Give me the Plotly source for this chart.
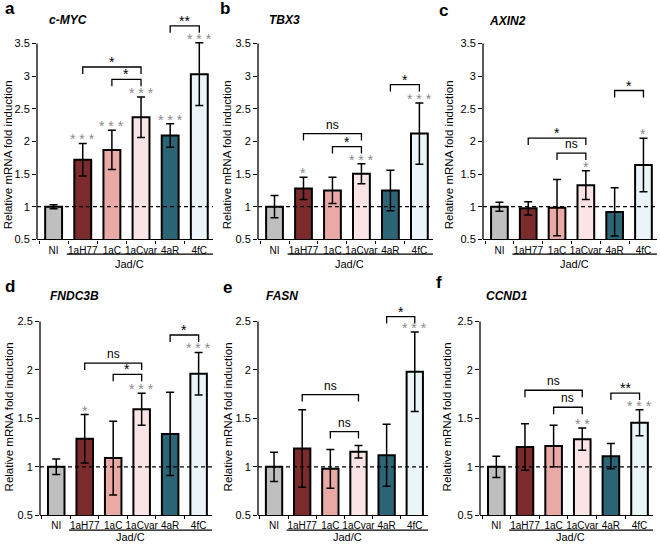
import plotly.graph_objects as go

# ---------------- data ----------------
categories = ["NI", "1aH77", "1aC", "1aCvar", "4aR", "4fC"]
bar_colors = ["#bfbfbf", "#7b2b2c", "#e9aaa6", "#fbe4e6", "#2c6576", "#ebf5f9"]

genes = ["c-MYC", "TBX3", "AXIN2", "FNDC3B", "FASN", "CCND1"]
panel_letters = ["a", "b", "c", "d", "e", "f"]

cmyc_mean = [1.00, 1.72, 1.87, 2.37, 2.09, 3.03]
cmyc_err = [0.03, 0.25, 0.30, 0.31, 0.18, 0.48]
cmyc_stars = ["", "***", "***", "***", "***", "***"]
cmyc_brackets = [("1aH77", "1aCvar", 3.14, "*"), ("1aC", "1aCvar", 2.95, "*"), ("4aR", "4fC", 3.77, "**")]

tbx3_mean = [1.00, 1.28, 1.25, 1.505, 1.25, 2.12]
tbx3_err = [0.17, 0.17, 0.20, 0.155, 0.31, 0.47]
tbx3_stars = ["", "*", "", "***", "", "***"]
tbx3_brackets = [("1aH77", "1aCvar", 2.12, "ns"), ("1aC", "1aCvar", 1.92, "*"), ("4aR", "4fC", 2.87, "*")]

axin2_mean = [1.00, 0.975, 0.985, 1.33, 0.92, 1.64]
axin2_err = [0.07, 0.10, 0.43, 0.22, 0.37, 0.41]
axin2_stars = ["", "", "", "*", "", "*"]
axin2_brackets = [("1aH77", "1aCvar", 2.05, "*"), ("1aC", "1aCvar", 1.82, "ns"), ("4aR", "4fC", 2.78, "*")]

fndc3b_mean = [1.00, 1.29, 1.09, 1.595, 1.34, 1.96]
fndc3b_err = [0.08, 0.25, 0.38, 0.165, 0.43, 0.22]
fndc3b_stars = ["", "*", "", "***", "", "***"]
fndc3b_brackets = [("1aH77", "1aCvar", 2.07, "ns"), ("1aC", "1aCvar", 1.955, "*"), ("4aR", "4fC", 2.36, "*")]

fasn_mean = [1.00, 1.19, 0.98, 1.155, 1.12, 1.98]
fasn_err = [0.15, 0.40, 0.20, 0.065, 0.32, 0.41]
fasn_stars = ["", "", "", "", "", "***"]
fasn_brackets = [("1aH77", "1aCvar", 1.745, "ns"), ("1aC", "1aCvar", 1.364, "ns"), ("4aR", "4fC", 2.55, "*")]

ccnd1_mean = [1.00, 1.205, 1.215, 1.285, 1.11, 1.455]
ccnd1_err = [0.11, 0.24, 0.215, 0.115, 0.13, 0.135]
ccnd1_stars = ["", "", "", "**", "", "***"]
ccnd1_brackets = [("1aH77", "1aCvar", 1.79, "ns"), ("1aC", "1aCvar", 1.615, "ns"), ("4aR", "4fC", 1.76, "**")]

top_ticks = [0.5, 1, 1.5, 2, 2.5, 3, 3.5]
bottom_ticks = [0.5, 1, 1.5, 2, 2.5]
group_label = "Jad/C"
y_title = "Relative mRNA fold induction"

means = [cmyc_mean, tbx3_mean, axin2_mean, fndc3b_mean, fasn_mean, ccnd1_mean]
errs = [cmyc_err, tbx3_err, axin2_err, fndc3b_err, fasn_err, ccnd1_err]
stars = [cmyc_stars, tbx3_stars, axin2_stars, fndc3b_stars, fasn_stars, ccnd1_stars]
brackets = [cmyc_brackets, tbx3_brackets, axin2_brackets, fndc3b_brackets, fasn_brackets, ccnd1_brackets]

# ---------------- layout (pixels) ----------------
W, H = 660, 550
FONT = "Liberation Sans, Arial, sans-serif"
x_px = [(37, 213), (258, 433), (483, 657), (40, 212), (258, 428), (480, 653)]
rows = [dict(pb=242, ppu=66, ext=3.95, ticks=top_ticks, line_off=15, lab_off=25),
        dict(pb=521, ppu=98, ext=2.65, ticks=bottom_ticks, line_off=15, lab_off=22)]
letter_px = [(3, 9), (218, 9), (437, 11), (3, 290), (221, 291), (434, 286)]
gene_px = [(68, 20), (284, 20), (507, 21), (74, 299), (282, 299), (507, 299)]
ytitle_px = [(8, 157), (227, 157), (449, 157), (9, 422), (228, 422), (447, 422)]
XR = [-0.57, 5.47]

pos = list(range(len(categories)))
bounds = [p - 0.5 for p in pos] + [pos[-1] + 0.5]

fig = go.Figure()
annotations = []
shapes = []

for k in range(6):
    n = "" if k == 0 else str(k + 1)
    xa, ya = "x" + n, "y" + n
    row = rows[0] if k < 3 else rows[1]
    pb, ppu, ext, ticks = row["pb"], row["ppu"], row["ext"], row["ticks"]
    pt = pb - (ext - 0.5) * ppu
    l, r = x_px[k]
    fig.update_layout(**{
        "xaxis" + n: dict(domain=[l / W, r / W], range=XR, type="linear", autorange=False,
                          tickmode="array", tickvals=pos, ticktext=categories, tickangle=0,
                          showline=True, linecolor="black", linewidth=1.3,
                          ticks="", ticklen=0, ticklabelstandoff=1,
                          minor=dict(tickmode="array", tickvals=bounds, ticks="outside",
                                     ticklen=3, tickcolor="black", tickwidth=1, showgrid=False),
                          tickfont=dict(family=FONT, size=10, color="black"),
                          showgrid=False, zeroline=False, anchor=ya, fixedrange=True),
        "yaxis" + n: dict(domain=[1 - pb / H, 1 - pt / H], range=[0.5, ext], autorange=False,
                          tickmode="array", tickvals=ticks, ticktext=[f"{t:g}" for t in ticks],
                          ticks="outside", ticklen=4, tickcolor="black", tickwidth=1,
                          tickfont=dict(family=FONT, size=11, color="black"),
                          showline=False, showgrid=False, zeroline=False,
                          anchor=xa, fixedrange=True),
    })
    fig.add_trace(go.Bar(
        x=pos, y=means[k], width=0.58,
        marker=dict(color=bar_colors, line=dict(color="black", width=2)),
        error_y=dict(type="data", array=errs[k], color="black", thickness=1.5, width=4),
        xaxis=xa, yaxis=ya, showlegend=False, hoverinfo="skip"))
    shapes.append(dict(type="line", xref=xa + " domain", x0=0, x1=0, yref=ya,
                       y0=0.5, y1=ticks[-1], line=dict(color="black", width=1.3)))
    shapes.append(dict(type="line", xref=xa + " domain", x0=0, x1=1, yref=ya,
                       y0=1, y1=1, line=dict(color="black", width=1.3, dash="4px,3px")))
    for p, m, e, s in zip(pos, means[k], errs[k], stars[k]):
        if s:
            annotations.append(dict(x=p, y=m + e, xref=xa, yref=ya, text=" ".join(s),
                                    showarrow=False, yanchor="middle", yshift=4,
                                    font=dict(family=FONT, size=14, color="#8a8a8a")))
    leg = 7 / ppu
    for c1, c2, h, lab in brackets[k]:
        i1, i2 = categories.index(c1), categories.index(c2)
        fig.add_trace(go.Scatter(x=[i1, i1, i2, i2], y=[h - leg, h, h, h - leg],
                                 mode="lines", line=dict(color="black", width=1.3),
                                 xaxis=xa, yaxis=ya, showlegend=False, hoverinfo="skip",
                                 cliponaxis=False))
        if lab == "ns":
            annotations.append(dict(x=(i1 + i2) / 2, y=h, xref=xa, yref=ya, text=lab,
                                    showarrow=False, yanchor="bottom", yshift=0,
                                    font=dict(family=FONT, size=12, color="black")))
        else:
            annotations.append(dict(x=(i1 + i2) / 2, y=h, xref=xa, yref=ya, text=lab,
                                    showarrow=False, yanchor="middle", yshift=5,
                                    font=dict(family=FONT, size=14, color="black")))
    ly_line = 1 - (pb + row["line_off"]) / H
    shapes.append(dict(type="line", xref=xa, x0=0.45, x1=XR[1], yref="paper",
                       y0=ly_line, y1=ly_line, line=dict(color="black", width=1.3)))
    annotations.append(dict(x=2.6, xref=xa, y=1 - (pb + row["lab_off"]) / H,
                            yref="paper", text=group_label, showarrow=False,
                            yanchor="middle", font=dict(family=FONT, size=11, color="black")))
    lx, ly = letter_px[k]
    annotations.append(dict(x=lx / W, y=1 - ly / H, xref="paper", yref="paper",
                            text="<b>" + panel_letters[k] + "</b>", showarrow=False,
                            xanchor="left", yanchor="middle",
                            font=dict(family=FONT, size=17, color="black")))
    gx, gy = gene_px[k]
    annotations.append(dict(x=gx / W, y=1 - gy / H, xref="paper", yref="paper",
                            text="<b><i>" + genes[k] + "</i></b>", showarrow=False,
                            xanchor="center", yanchor="middle",
                            font=dict(family=FONT, size=12, color="black")))
    tx, ty = ytitle_px[k]
    annotations.append(dict(x=tx / W, y=1 - ty / H, xref="paper", yref="paper",
                            text=y_title, textangle=-90, showarrow=False,
                            xanchor="center", yanchor="middle",
                            font=dict(family=FONT, size=11.5, color="black")))

fig.update_layout(width=W, height=H, margin=dict(l=0, r=0, t=0, b=0),
                  paper_bgcolor="white", plot_bgcolor="white",
                  bargap=0.4, hovermode=False, showlegend=False,
                  annotations=annotations, shapes=shapes)

fig.write_html("out.html", config={"displayModeBar": False},
               post_script="document.body.style.margin='0';document.body.style.padding='0';")
